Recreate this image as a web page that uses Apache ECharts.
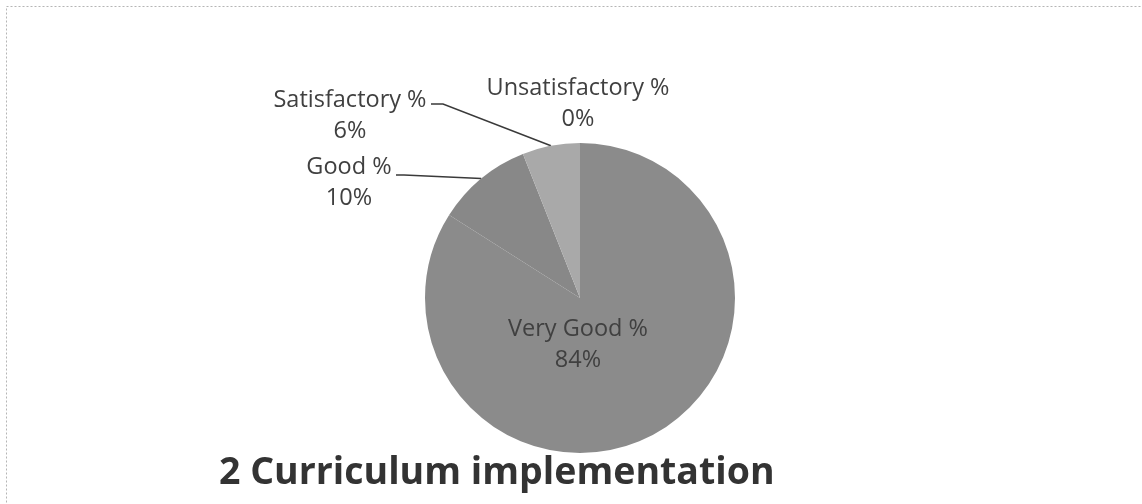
<!DOCTYPE html>
<html>
<head>
<meta charset="utf-8">
<script src="https://cdn.jsdelivr.net/npm/echarts@6/dist/echarts.min.js"></script>
<style>
  html, body { margin: 0; padding: 0; background: #fff; }
  #chart { width: 1142px; height: 504px; }
</style>
</head>
<body>
<div id="chart"></div>
<script>
// categories and values
var categories = ['Very Good %', 'Good %', 'Satisfactory %', 'Unsatisfactory %'];
var values = [84, 10, 6, 0];
var sliceColors = ['#8b8b8b', '#888888', '#a9a9a9', '#9a9a9a'];

// where each label sits (centre of text) and where its leader line bends
var labelSpots = [
    { x: 578, y: 345, bend: null, end: null },
    { x: 349, y: 183, bend: [404, 175], end: [396, 175] },
    { x: 350, y: 116, bend: [443, 104], end: [431, 104] },
    { x: 578, y: 104, bend: null, end: null }
];

var myChart = echarts.init(document.getElementById('chart'));

var pieData = categories.map(function (name, i) {
    var item = { name: name, value: values[i], itemStyle: { color: sliceColors[i] } };
    if (!labelSpots[i].end) {
        item.labelLine = { show: false };
    }
    return item;
});

var option = {
    animation: false,
    backgroundColor: '#fff',
    title: {
        text: '2 Curriculum implementation',
        left: 214,
        top: 449,
        textStyle: {
            fontFamily: 'Open Sans',
            fontWeight: 'bold',
            fontSize: 37.5,
            color: '#333'
        }
    },
    graphic: [{
        type: 'rect',
        shape: { x: 6.5, y: 6.5, width: 1150, height: 520 },
        style: { fill: 'none', stroke: '#b5b5b5', lineWidth: 1, lineDash: [2, 2] },
        silent: true
    }],
    series: [{
        type: 'pie',
        center: [580, 298],
        radius: 155,
        startAngle: 90,
        clockwise: true,
        data: pieData,
        itemStyle: { borderWidth: 0 },
        label: {
            show: true,
            position: 'outside',
            formatter: '{b}\n{c}%',
            fontFamily: 'Open Sans',
            fontSize: 23.5,
            lineHeight: 31,
            color: '#404040',
            align: 'center'
        },
        labelLine: {
            show: true,
            lineStyle: { color: '#3a3a3a', width: 1.5 }
        },
        emphasis: { disabled: true },
        labelLayout: function (params) {
            var spot = labelSpots[params.dataIndex];
            var out = {
                x: spot.x,
                y: spot.y,
                align: 'center',
                verticalAlign: 'middle'
            };
            if (spot.end && params.labelLinePoints) {
                out.labelLinePoints = [params.labelLinePoints[0], spot.bend, spot.end];
            }
            return out;
        }
    }]
};

myChart.setOption(option);
</script>
</body>
</html>
